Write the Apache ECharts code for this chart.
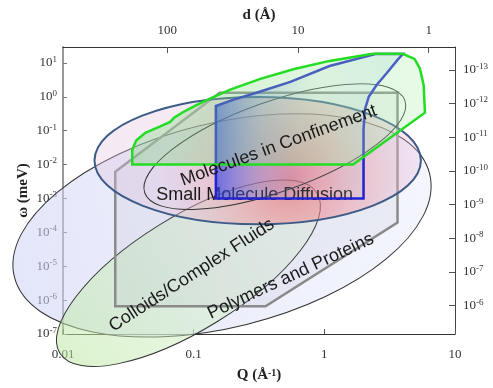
<!DOCTYPE html>
<html><head><meta charset="utf-8">
<script src="https://cdn.jsdelivr.net/npm/echarts@6/dist/echarts.min.js"></script>
<style>html,body{margin:0;padding:0;background:#fff}#c{width:493px;height:388px}</style>
</head><body><div id="c"></div>
<script>
// All values are decimal exponents:
// x = log10(Q / Å^-1), y = log10(ω / meV), top = log10(d / Å), right = log10(t / s)
const qTicks = [-2, -1, 0, 1];
const wTicks = [-7, -6, -5, -4, -3, -2, -1, 0, 1];
const dTicks = [0, 1, 2];
const tTicks = [-13, -12, -11, -10, -9, -8, -7, -6];

const greenRegion = [[-1.47,-2.00],[-1.47,-1.56],[-1.44,-1.29],[-1.37,-1.06],[-1.26,-0.88],[-1.18,-0.74],[-1.15,-0.62],[-1.09,-0.47],[-0.99,-0.27],[-0.88,-0.06],[-0.72,0.21],[-0.49,0.53],[-0.23,0.82],[0.04,1.06],[0.37,1.27],[0.60,1.27],[0.69,1.12],[0.73,0.85],[0.76,0.35],[0.77,-0.47],[0.22,-2.00]];
const blueRegion = [[-0.83,-0.27],[-0.70,-0.09],[-0.52,0.12],[-0.26,0.44],[0.04,0.91],[0.39,1.26],[0.60,1.26],[0.56,1.09],[0.48,0.71],[0.40,0.35],[0.34,0.00],[0.31,-0.38],[0.30,-0.97],[0.30,-3.00],[-0.83,-3.00]];
const grayRegion = [[-1.60,-2.21],[-0.80,0.12],[0.56,0.12],[0.56,-3.71],[-0.45,-6.18],[-1.60,-6.18]];

// ellipses: centre, end of the long axis, short/long axis ratio
const polymersEllipse = { c: [-0.783, -3.794], e: [0.806, -2.271], k: 0.477 };
const colloidsEllipse = { c: [-1.040, -5.206], e: [-0.056, -2.844], k: 0.372 };
const confineEllipse  = { c: [-0.510, -1.882], e: [0.739, -1.882], k: 0.39 };
const smallMolEllipse = { c: [-0.379, -1.471], e: [0.616, -0.103], k: 0.326 };

const labelTexts = ['Molecules in Confinement', 'Small Molecule Diffusion', 'Colloids/Complex Fluids', 'Polymers and Proteins'];
const labelAnchors = [[-0.349, -1.441], [-0.533, -2.912], [-1.015, -5.265], [-0.257, -5.294]];
const labelAngles = [20, 0, 33, 25];

const SERIF = '"Liberation Serif","Times New Roman",serif';
const SANS = '"Liberation Sans",Arial,sans-serif';
const G = echarts.graphic;

function polySeries(points, style) {
  return {
    type: 'custom', coordinateSystem: 'cartesian2d', silent: true, clip: false,
    data: points,
    renderItem: function (params, api) {
      if (params.dataIndex !== 0) return null;
      return { type: 'polygon', shape: { points: points.map(p => api.coord(p)) }, style: style };
    }
  };
}
function ellipseSeries(el, style) {
  return {
    type: 'custom', coordinateSystem: 'cartesian2d', silent: true, clip: false,
    data: [el.c],
    renderItem: function (params, api) {
      const c = api.coord(el.c), e = api.coord(el.e);
      const dx = e[0] - c[0], dy = e[1] - c[1];
      const rx = Math.hypot(dx, dy);
      return { type: 'ellipse', x: c[0], y: c[1], rotation: Math.atan2(-dy, dx),
        shape: { cx: 0, cy: 0, rx: rx, ry: rx * el.k }, style: style };
    }
  };
}
function textSeries(idx) {
  return {
    type: 'custom', coordinateSystem: 'cartesian2d', silent: true, clip: false,
    data: idx.map(i => labelAnchors[i]),
    renderItem: function (params, api) {
      const i = idx[params.dataIndex];
      const p = api.coord(labelAnchors[i]);
      return { type: 'text', x: p[0], y: p[1], rotation: labelAngles[i] * Math.PI / 180,
        style: { text: labelTexts[i], font: '18px ' + SANS, fill: '#1a1a1a', align: 'center', verticalAlign: 'middle' } };
    }
  };
}

const supRich = {
  b: { fontFamily: SERIF, fontSize: 13, color: '#333', lineHeight: 16 },
  e: { fontFamily: SERIF, fontSize: 9, color: '#333', verticalAlign: 'top', lineHeight: 16 }
};
const expLabel = v => '{b|10}{e|' + Math.round(v) + '}';
const nameStyle = { fontFamily: SERIF, fontWeight: 'bold', fontSize: 15, color: '#222' };

const chart = echarts.init(document.getElementById('c'), null, { renderer: 'canvas' });
chart.setOption({
  animation: false,
  backgroundColor: '#fff',
  grid: { left: 63, right: 38, top: 47, bottom: 53, show: false },
  xAxis: [
    { type: 'value', position: 'bottom', min: -2, max: 1, interval: 1,
      axisLine: { show: true, onZero: false, lineStyle: { color: '#333', width: 1 } },
      axisTick: { show: true, inside: true, length: 5, lineStyle: { color: '#555' } },
      axisLabel: { margin: 14, fontFamily: SERIF, fontSize: 13, color: '#333',
        formatter: v => String(Math.round(Math.pow(10, v) * 100) / 100) },
      splitLine: { show: false },
      name: 'Q (Å{s|-1})', nameLocation: 'middle', nameGap: 34, nameMoveOverlap: false,
      nameTextStyle: Object.assign({}, nameStyle,
        { rich: { s: { fontFamily: SERIF, fontWeight: 'bold', fontSize: 10, color: '#222', verticalAlign: 'top' } } }) },
    { type: 'value', position: 'top', min: -0.2018, max: 2.7982, inverse: true,
      axisLine: { show: true, onZero: false, lineStyle: { color: '#333', width: 1 } },
      axisTick: { show: true, inside: true, length: 6, customValues: dTicks, lineStyle: { color: '#555' } },
      axisLabel: { margin: 10, customValues: dTicks, fontFamily: SERIF, fontSize: 13, color: '#333',
        formatter: v => String(Math.round(Math.pow(10, v))) },
      splitLine: { show: false },
      name: 'd (Å)', nameLocation: 'middle', nameGap: 24, nameMoveOverlap: false,
      nameTextStyle: nameStyle }
  ],
  yAxis: [
    { type: 'value', position: 'left', min: -7, max: 1.47,
      axisLine: { show: true, onZero: false, lineStyle: { color: '#999', width: 2 } },
      axisTick: { show: true, inside: true, length: 4, customValues: wTicks, lineStyle: { color: '#777' } },
      axisLabel: { margin: 6, customValues: wTicks, formatter: expLabel, rich: supRich },
      splitLine: { show: false },
      name: 'ω (meV)', nameLocation: 'middle', nameGap: 32, nameRotate: 90, nameMoveOverlap: false,
      nameTextStyle: nameStyle },
    { type: 'value', position: 'right', min: -13.68, max: -5.16, inverse: true,
      axisLine: { show: true, onZero: false, lineStyle: { color: '#444', width: 1 } },
      axisTick: { show: true, inside: true, length: 6, customValues: tTicks, lineStyle: { color: '#555' } },
      axisLabel: { margin: 8, customValues: tTicks, formatter: expLabel, rich: supRich },
      splitLine: { show: false } }
  ],
  series: [
    ellipseSeries(polymersEllipse, {
      fill: new G.LinearGradient(0, 0, 1, 0, [
        { offset: 0, color: 'rgba(205,210,245,0.55)' }, { offset: 1, color: 'rgba(228,232,250,0.4)' }]),
      stroke: '#333', lineWidth: 1 }),
    ellipseSeries(colloidsEllipse, {
      fill: new G.LinearGradient(0, 0, 1, 0, [
        { offset: 0, color: 'rgba(190,232,165,0.55)' }, { offset: 1, color: 'rgba(225,244,220,0.35)' }]),
      stroke: '#333', lineWidth: 1 }),
    polySeries(grayRegion, { fill: 'rgba(150,150,165,0.10)', stroke: '#8a8a8a', lineWidth: 2.5 }),
    ellipseSeries(confineEllipse, {
      fill: new G.RadialGradient(0.6, 0.62, 1.0, [
        { offset: 0, color: 'rgba(232,95,100,0.65)' }, { offset: 0.5, color: 'rgba(238,150,160,0.5)' },
        { offset: 1, color: 'rgba(228,195,225,0.35)' }]),
      stroke: '#3d5b86', lineWidth: 2 }),
    textSeries([1]),
    ellipseSeries(smallMolEllipse, { fill: 'rgba(0,0,0,0)', stroke: '#333', lineWidth: 1 }),
    polySeries(blueRegion, {
      fill: new G.LinearGradient(0, 0, 1, 0, [
        { offset: 0, color: 'rgba(40,60,230,0.65)' }, { offset: 0.25, color: 'rgba(100,120,230,0.3)' },
        { offset: 0.55, color: 'rgba(180,180,230,0.08)' }, { offset: 1, color: 'rgba(160,220,235,0.3)' }]),
      stroke: '#2222d0', lineWidth: 2.5 }),
    polySeries(greenRegion, {
      fill: new G.LinearGradient(0, 0, 1, 0, [
        { offset: 0, color: 'rgba(120,210,120,0.35)' }, { offset: 1, color: 'rgba(175,240,175,0.3)' }]),
      stroke: '#22dd22', lineWidth: 2.5 }),
    textSeries([0, 2, 3])
  ]
});
</script></body></html>
